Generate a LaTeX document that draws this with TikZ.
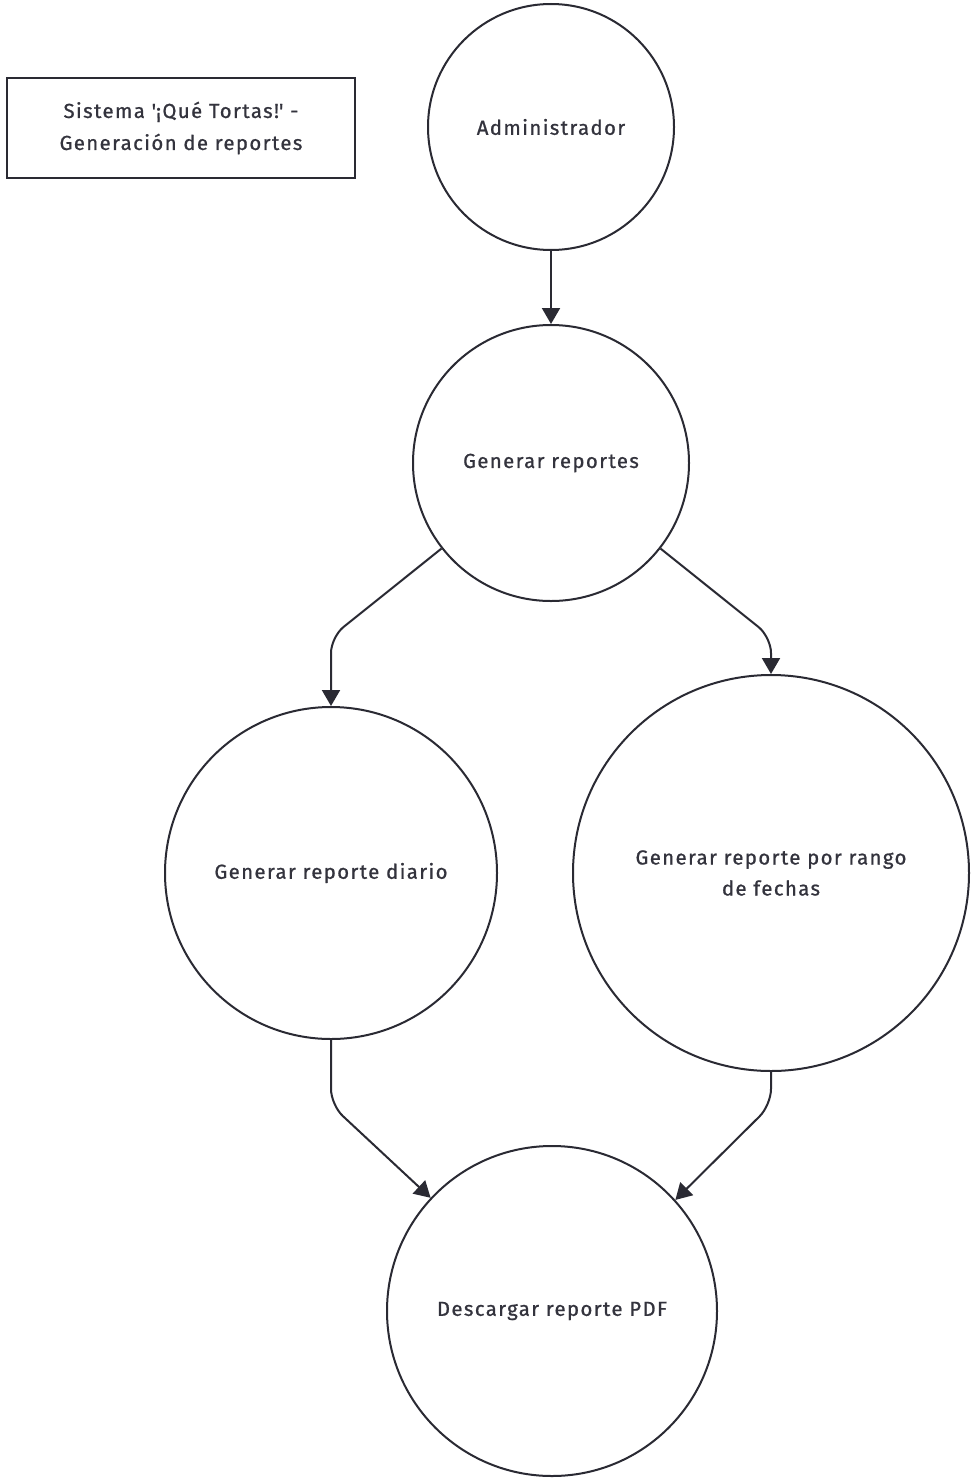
\documentclass[tikz,border=0pt]{standalone}
\usepackage{fontspec}
\setmainfont{Fira Sans}[LetterSpace=7,FakeBold=0.9]
\usetikzlibrary{arrows.meta}
\definecolor{ink}{HTML}{2A2A33}
\definecolor{txt}{HTML}{33333D}
\begin{document}
\begin{tikzpicture}[x=1pt,y=-1pt,
  proc/.style={circle,draw=ink,line width=2pt,fill=white,inner sep=0pt,
    text=txt,font=\fontsize{20.3}{31}\selectfont,align=center},
  titlebox/.style={draw=ink,line width=2pt,fill=white,minimum width=348pt,
    minimum height=100pt,text=txt,font=\fontsize{20.3}{32}\selectfont,align=center},
  flow/.style={draw=ink,line width=2pt,rounded corners=16pt,
    -{Triangle[length=16pt,width=18pt]}}]
  % canvas
  \useasboundingbox (0,0) rectangle (970,1480);
  \fill[white] (0,0) rectangle (970,1480);

  % title
  \node[titlebox] (title) at (181,128)
    {Sistema \textquotesingle¡Qué Tortas!\textquotesingle\ -\\Generación de reportes};

  % process circles
  \node[proc,minimum size=246pt] (admin) at (551,127) {Administrador};
  \node[proc,minimum size=276pt] (gen) at (551,463) {Generar reportes};
  \node[proc,minimum size=332pt] (diario) at (331,873) {Generar reporte diario};
  \node[proc,minimum size=396pt] (rango) at (771,873)
    {Generar reporte por rango\\de fechas};
  \node[proc,minimum size=330pt] (pdf) at (552,1311) {Descargar reporte PDF};

  % bend points
  \coordinate (bl) at (331,637);
  \coordinate (br) at (771,637);
  \coordinate (cl) at (331,1105);
  \coordinate (cr) at (771,1105);

  % connectors
  \draw[flow] (admin.south) -- (gen.north);
  \draw[flow] (gen.218.9) -- (bl) -- (diario.north);
  \draw[flow] (gen.-38.6) -- (br) -- (rango.north);
  \draw[flow] (diario.south) -- (cl) -- (pdf.137);
  \draw[flow] (rango.south) -- (cr) -- (pdf.42.7);
\end{tikzpicture}
\end{document}
